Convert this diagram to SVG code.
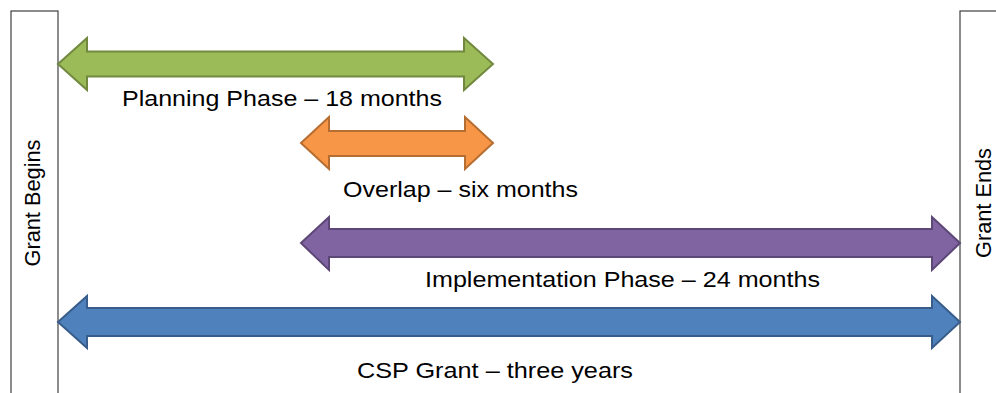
<svg xmlns="http://www.w3.org/2000/svg" width="996" height="393" viewBox="0 0 996 393">
<style>
.box{fill:#ffffff;stroke:#404040;stroke-width:1.2}
.lbl{font-family:"Liberation Sans",Arial,sans-serif;font-size:22px;fill:#000}
.green{fill:#9BBB59;stroke:#71893F;stroke-width:2;stroke-linejoin:miter}
.orange{fill:#F79646;stroke:#B66D31;stroke-width:2}
.purple{fill:#8064A2;stroke:#5C4776;stroke-width:2}
.blue{fill:#4F81BD;stroke:#385D8A;stroke-width:2}
</style>
<rect width="996" height="393" fill="#ffffff"/>
<g id="grant-begins">
<rect class="box" x="11" y="11" width="47" height="400"/>
<text class="lbl" text-anchor="middle" textLength="127" lengthAdjust="spacingAndGlyphs" transform="translate(40,203) rotate(-90)">Grant Begins</text>
</g>
<g id="grant-ends">
<rect class="box" x="960" y="11" width="60" height="400"/>
<text class="lbl" text-anchor="middle" textLength="110" lengthAdjust="spacingAndGlyphs" transform="translate(991,203) rotate(-90)">Grant Ends</text>
</g>
<g id="connectors">
<g id="planning">
<polygon class="green" points="58,64 87,38 87,51.5 464,51.5 464,38 493,64 464,90 464,76.5 87,76.5 87,90"/>
<text class="lbl" x="122" y="105.5" textLength="320" lengthAdjust="spacingAndGlyphs">Planning Phase – 18 months</text>
</g>
<g id="overlap">
<polygon class="orange" points="301,143 329,117 329,131 465,131 465,117 493,143 465,169 465,156 329,156 329,169"/>
<text class="lbl" x="343" y="197" textLength="235" lengthAdjust="spacingAndGlyphs">Overlap – six months</text>
</g>
<g id="implementation">
<polygon class="purple" points="301,243 329,217 329,229 932,229 932,217 960,243 932,270 932,257 329,257 329,270"/>
<text class="lbl" x="425" y="287" textLength="395" lengthAdjust="spacingAndGlyphs">Implementation Phase – 24 months</text>
</g>
<g id="csp-grant">
<polygon class="blue" points="58,322 87,296 87,308 932,308 932,296 960,322 932,348 932,336 87,336 87,348"/>
<text class="lbl" x="357" y="378" textLength="276" lengthAdjust="spacingAndGlyphs">CSP Grant – three years</text>
</g>
</g>
</svg>
